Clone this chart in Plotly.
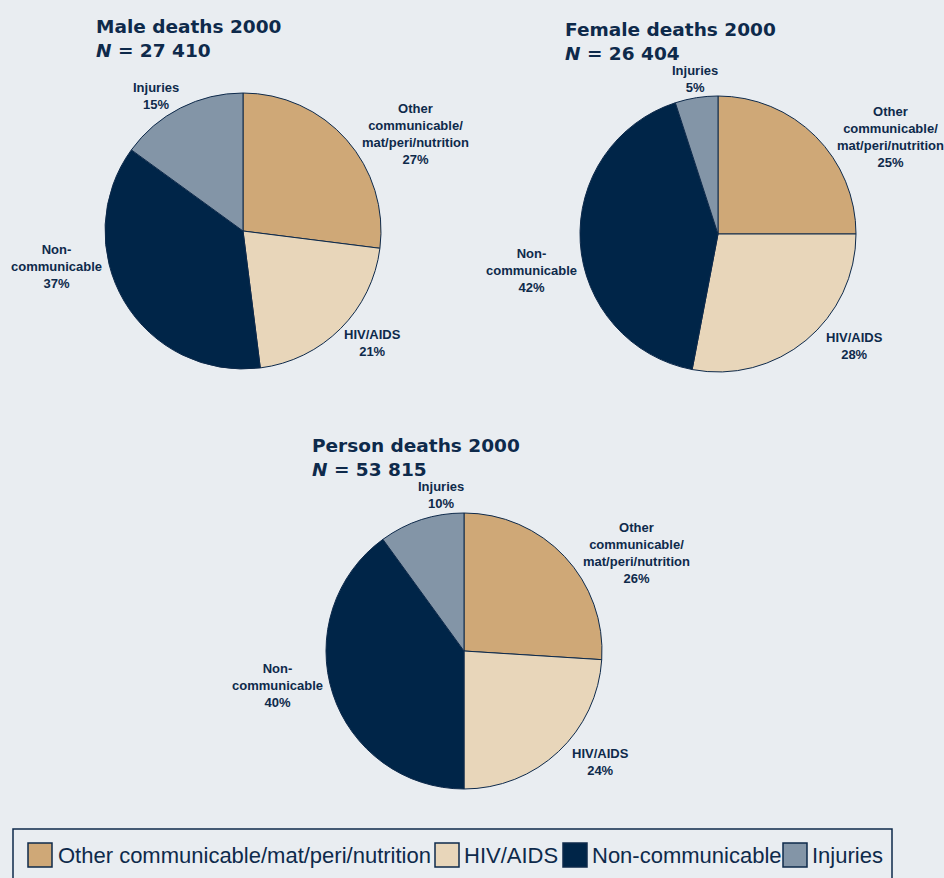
import plotly.graph_objects as go

# ---- data ----
categories = ["Other communicable/mat/peri/nutrition", "HIV/AIDS", "Non-communicable", "Injuries"]
label_text = ["Other<br>communicable/<br>mat/peri/nutrition", "HIV/AIDS", "Non-<br>communicable", "Injuries"]
male_pct = [27, 21, 37, 15]
female_pct = [25, 28, 42, 5]
person_pct = [26, 24, 40, 10]
titles = ["Male deaths 2000", "Female deaths 2000", "Person deaths 2000"]
totals = ["27 410", "26 404", "53 815"]

# ---- styles / layout ----
W, H = 944, 878
BG = "#e9edf1"
NAVY = "#0e2a4b"
colors = ["#cfa877", "#e8d6ba", "#002548", "#8395a7"]
SANS = "Liberation Sans, Arial, sans-serif"
TITLE_FONT = "DejaVu Sans, Verdana, sans-serif"


def px_x(x):
    return x / W


def px_y(y):
    return 1 - y / H


# pie centers and radius in pixels
pies = [
    dict(cx=243, cy=231, r=138),
    dict(cx=718, cy=234, r=138),
    dict(cx=464, cy=651, r=138),
]
# title: left x, vertical centre of the two-line block
title_pos = [(94, 38.5), (563, 41), (310, 457.5)]
# label centers (pixels) per chart, in category order
label_pos = [
    [(415, 134), (372, 343), (56, 266), (156, 96)],
    [(890, 137), (854, 346), (531, 270), (695, 79)],
    [(636, 553), (600, 762), (277, 685), (441, 495)],
]
# legend layout: swatch left x, text left x
legend_items = [(28, 56), (435, 462), (563, 590), (783, 810)]
legend_y = 855
swatch = 24

fig = go.Figure()
series = [male_pct, female_pct, person_pct]
for i, vals in enumerate(series):
    p = pies[i]
    fig.add_trace(go.Pie(
        labels=categories,
        values=vals,
        sort=False,
        direction="clockwise",
        rotation=0,
        textinfo="none",
        hoverinfo="label+percent",
        marker=dict(colors=colors, line=dict(color=NAVY, width=1)),
        domain=dict(x=[px_x(p["cx"] - p["r"]), px_x(p["cx"] + p["r"])],
                    y=[px_y(p["cy"] + p["r"]), px_y(p["cy"] - p["r"])]),
        showlegend=False,
        name=titles[i],
    ))
    # title
    tx, ty = title_pos[i]
    fig.add_annotation(
        x=px_x(tx), y=px_y(ty), xref="paper", yref="paper",
        xanchor="left", yanchor="middle", align="left", showarrow=False,
        text=f"<b>{titles[i]}<br><i>N</i> = {totals[i]}</b>",
        font=dict(family=TITLE_FONT, size=18.5, color=NAVY),
    )
    # slice labels
    for j, cat in enumerate(label_text):
        lx, ly = label_pos[i][j]
        fig.add_annotation(
            x=px_x(lx), y=px_y(ly), xref="paper", yref="paper",
            xanchor="center", yanchor="middle", align="center", showarrow=False,
            text=f"<b>{cat}<br>{vals[j]}%</b>",
            font=dict(family=SANS, size=13, color=NAVY),
        )

# legend frame
fig.add_shape(type="rect", xref="paper", yref="paper",
              x0=px_x(13), x1=px_x(892), y0=px_y(895), y1=px_y(829),
              line=dict(color=NAVY, width=1.5), fillcolor="rgba(0,0,0,0)")

# legend entries
for k, cat in enumerate(categories):
    sx, txl = legend_items[k]
    fig.add_shape(type="rect", xref="paper", yref="paper",
                  x0=px_x(sx), x1=px_x(sx + swatch),
                  y0=px_y(legend_y + swatch / 2), y1=px_y(legend_y - swatch / 2),
                  line=dict(color=NAVY, width=1.5), fillcolor=colors[k])
    fig.add_annotation(
        x=px_x(txl), y=px_y(legend_y), xref="paper", yref="paper",
        xanchor="left", yanchor="middle", showarrow=False,
        text=cat, font=dict(family=SANS, size=22, color=NAVY),
    )

fig.update_layout(
    width=W, height=H,
    margin=dict(l=0, r=0, t=0, b=0),
    paper_bgcolor=BG, plot_bgcolor=BG,
    font=dict(family=SANS, color=NAVY),
    showlegend=False,
)

fig.write_html(
    "out.html",
    config={"displayModeBar": False},
    post_script="document.body.style.margin='0';document.body.style.background='%s';" % BG,
)
